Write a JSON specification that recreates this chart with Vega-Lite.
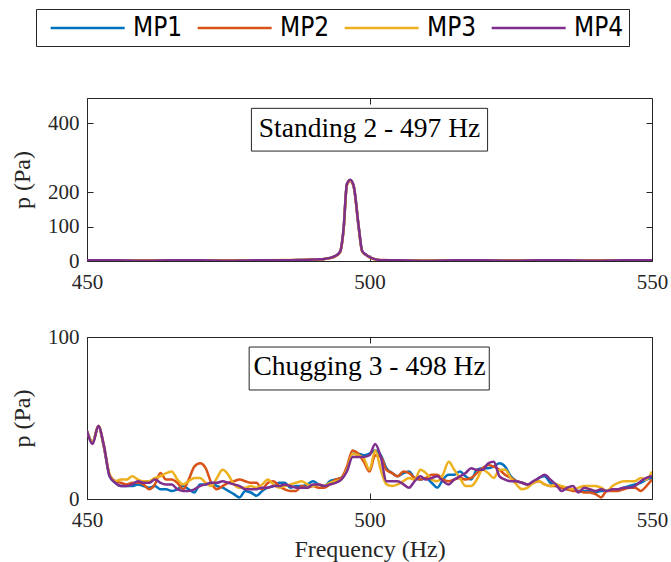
{
"$schema": "https://vega.github.io/schema/vega-lite/v6.json",
"padding": {"left": 10, "top": 8, "right": 12, "bottom": 0},
"spacing": 32,
"config": {
  "font": "Liberation Serif",
  "view": {"stroke": "#262626", "strokeWidth": 1},
  "axis": {"grid": false, "domain": false, "tickColor": "#262626", "tickSize": 6, "offset": -6, "tickWidth": 1, "labelFlush": false, "labelFont": "Liberation Serif", "labelFontSize": 21, "labelColor": "#262626", "titleFont": "Liberation Serif", "titleFontSize": 24, "titleFontWeight": "normal", "titleColor": "#262626", "labelPadding": 8, "titlePadding": 13},
  "axisX": {"labelPadding": 10, "titlePadding": 7},
  "legend": {"orient": "none", "legendX": -51, "legendY": -89, "direction": "horizontal", "title": null, "strokeColor": "#262626", "fillColor": "white", "padding": 5, "symbolType": "M-0.35,0H5.65", "symbolSize": 608, "symbolStrokeWidth": 2.5, "labelFont": "DejaVu Sans Condensed, Liberation Sans Narrow, DejaVu Sans", "labelFontSize": 26, "labelColor": "#000000", "labelOffset": 64, "columnPadding": 5}
},
"datasets": {
"top": [
{"f":450,"MP1":2,"MP2":2,"MP3":2,"MP4":2},
{"f":455,"MP1":2,"MP2":1,"MP3":2,"MP4":2},
{"f":460,"MP1":1,"MP2":2,"MP3":1,"MP4":1},
{"f":465,"MP1":2,"MP2":2,"MP3":2,"MP4":2},
{"f":470,"MP1":2,"MP2":1,"MP3":2,"MP4":2},
{"f":475,"MP1":1,"MP2":2,"MP3":1,"MP4":1},
{"f":480,"MP1":2,"MP2":2,"MP3":2,"MP4":2},
{"f":485,"MP1":2,"MP2":2,"MP3":3,"MP4":2},
{"f":488,"MP1":3,"MP2":3,"MP3":3,"MP4":3},
{"f":490,"MP1":4,"MP2":4,"MP3":4,"MP4":4},
{"f":491,"MP1":5,"MP2":4,"MP3":5,"MP4":5},
{"f":492,"MP1":6,"MP2":6,"MP3":6,"MP4":6},
{"f":493,"MP1":9,"MP2":8,"MP3":9,"MP4":9},
{"f":494,"MP1":15,"MP2":14,"MP3":15,"MP4":15},
{"f":494.8,"MP1":27,"MP2":26,"MP3":27,"MP4":27},
{"f":495.4,"MP1":90,"MP2":88,"MP3":90,"MP4":92},
{"f":496,"MP1":222,"MP2":220,"MP3":222,"MP4":224},
{"f":496.6,"MP1":234,"MP2":232,"MP3":234,"MP4":236},
{"f":497.2,"MP1":217,"MP2":215,"MP3":217,"MP4":218},
{"f":498.1,"MP1":97,"MP2":95,"MP3":97,"MP4":98},
{"f":498.7,"MP1":28,"MP2":28,"MP3":28,"MP4":29},
{"f":499.5,"MP1":17,"MP2":17,"MP3":16,"MP4":17},
{"f":500.3,"MP1":9,"MP2":9,"MP3":8,"MP4":9},
{"f":501.3,"MP1":4,"MP2":4,"MP3":4,"MP4":4},
{"f":502.5,"MP1":2,"MP2":3,"MP3":2,"MP4":2},
{"f":505,"MP1":2,"MP2":2,"MP3":2,"MP4":2},
{"f":510,"MP1":1,"MP2":2,"MP3":2,"MP4":1},
{"f":515,"MP1":2,"MP2":2,"MP3":2,"MP4":2},
{"f":520,"MP1":2,"MP2":1,"MP3":2,"MP4":2},
{"f":525,"MP1":1,"MP2":2,"MP3":1,"MP4":1},
{"f":530,"MP1":2,"MP2":2,"MP3":2,"MP4":2},
{"f":535,"MP1":2,"MP2":1,"MP3":2,"MP4":2},
{"f":540,"MP1":1,"MP2":2,"MP3":1,"MP4":1},
{"f":545,"MP1":2,"MP2":2,"MP3":2,"MP4":2},
{"f":550,"MP1":2,"MP2":2,"MP3":2,"MP4":2}
],
"bot": [
{"f":450,"MP1":42,"MP2":41,"MP3":42,"MP4":42},
{"f":451,"MP1":35,"MP2":35,"MP3":35,"MP4":34},
{"f":452,"MP1":45,"MP2":45,"MP3":45,"MP4":45},
{"f":453,"MP1":32,"MP2":32,"MP3":33,"MP4":33},
{"f":454,"MP1":14,"MP2":15,"MP3":15,"MP4":14},
{"f":455,"MP1":10,"MP2":11,"MP3":11,"MP4":10},
{"f":456,"MP1":8,"MP2":10,"MP3":12,"MP4":8},
{"f":457,"MP1":8,"MP2":9,"MP3":12,"MP4":8},
{"f":458,"MP1":8,"MP2":10,"MP3":14,"MP4":9},
{"f":459,"MP1":9,"MP2":10,"MP3":12,"MP4":11},
{"f":460,"MP1":8,"MP2":9,"MP3":11,"MP4":10},
{"f":461,"MP1":7,"MP2":6,"MP3":11,"MP4":10},
{"f":462,"MP1":8,"MP2":9,"MP3":13,"MP4":12},
{"f":463,"MP1":6,"MP2":16,"MP3":14,"MP4":10},
{"f":464,"MP1":6,"MP2":12,"MP3":16,"MP4":9},
{"f":465,"MP1":5,"MP2":12,"MP3":17,"MP4":9},
{"f":466,"MP1":6,"MP2":10,"MP3":12,"MP4":6},
{"f":467,"MP1":8,"MP2":6,"MP3":9,"MP4":5},
{"f":468,"MP1":6,"MP2":12,"MP3":11,"MP4":5},
{"f":469,"MP1":4,"MP2":20,"MP3":13,"MP4":6},
{"f":470,"MP1":9,"MP2":22,"MP3":13,"MP4":8},
{"f":471,"MP1":9,"MP2":19,"MP3":10,"MP4":9},
{"f":472,"MP1":10,"MP2":10,"MP3":8,"MP4":10},
{"f":473,"MP1":8,"MP2":6,"MP3":13,"MP4":10},
{"f":474,"MP1":7,"MP2":8,"MP3":18,"MP4":11},
{"f":475,"MP1":5,"MP2":10,"MP3":15,"MP4":10},
{"f":476,"MP1":3,"MP2":11,"MP3":9,"MP4":9},
{"f":477,"MP1":1,"MP2":12,"MP3":7,"MP4":8},
{"f":478,"MP1":5,"MP2":11,"MP3":7,"MP4":6},
{"f":479,"MP1":4,"MP2":10,"MP3":8,"MP4":6},
{"f":480,"MP1":2,"MP2":10,"MP3":7,"MP4":6},
{"f":481,"MP1":5,"MP2":6,"MP3":9,"MP4":7},
{"f":482,"MP1":7,"MP2":10,"MP3":12,"MP4":7},
{"f":483,"MP1":8,"MP2":11,"MP3":9,"MP4":8},
{"f":484,"MP1":10,"MP2":8,"MP3":7,"MP4":8},
{"f":485,"MP1":10,"MP2":6,"MP3":8,"MP4":9},
{"f":486,"MP1":7,"MP2":5,"MP3":9,"MP4":8},
{"f":487,"MP1":8,"MP2":5,"MP3":10,"MP4":7},
{"f":488,"MP1":8,"MP2":8,"MP3":11,"MP4":7},
{"f":489,"MP1":9,"MP2":7,"MP3":9,"MP4":7},
{"f":490,"MP1":11,"MP2":8,"MP3":8,"MP4":9},
{"f":491,"MP1":9,"MP2":7,"MP3":9,"MP4":9},
{"f":492,"MP1":8,"MP2":7,"MP3":8,"MP4":8},
{"f":493,"MP1":11,"MP2":9,"MP3":10,"MP4":9},
{"f":494,"MP1":12,"MP2":12,"MP3":11,"MP4":10},
{"f":495,"MP1":13,"MP2":13,"MP3":12,"MP4":12},
{"f":496,"MP1":18,"MP2":20,"MP3":18,"MP4":17},
{"f":497,"MP1":28,"MP2":30,"MP3":28,"MP4":26},
{"f":498,"MP1":28,"MP2":28,"MP3":27,"MP4":26},
{"f":499,"MP1":27,"MP2":23,"MP3":25,"MP4":26},
{"f":500,"MP1":28,"MP2":17,"MP3":18,"MP4":27},
{"f":501,"MP1":30,"MP2":27,"MP3":30,"MP4":34},
{"f":502,"MP1":27,"MP2":26,"MP3":18,"MP4":26},
{"f":503,"MP1":19,"MP2":18,"MP3":9,"MP4":11},
{"f":504,"MP1":16,"MP2":16,"MP3":8,"MP4":11},
{"f":505,"MP1":14,"MP2":14,"MP3":9,"MP4":11},
{"f":506,"MP1":16,"MP2":17,"MP3":11,"MP4":9},
{"f":507,"MP1":17,"MP2":16,"MP3":13,"MP4":7},
{"f":508,"MP1":13,"MP2":13,"MP3":12,"MP4":11},
{"f":509,"MP1":12,"MP2":12,"MP3":18,"MP4":14},
{"f":510,"MP1":13,"MP2":13,"MP3":16,"MP4":12},
{"f":511,"MP1":10,"MP2":15,"MP3":12,"MP4":13},
{"f":512,"MP1":7,"MP2":15,"MP3":11,"MP4":14},
{"f":513,"MP1":12,"MP2":12,"MP3":15,"MP4":11},
{"f":514,"MP1":15,"MP2":11,"MP3":23,"MP4":9},
{"f":515,"MP1":15,"MP2":12,"MP3":18,"MP4":12},
{"f":516,"MP1":17,"MP2":13,"MP3":13,"MP4":14},
{"f":517,"MP1":14,"MP2":12,"MP3":8,"MP4":16},
{"f":518,"MP1":12,"MP2":13,"MP3":8,"MP4":19},
{"f":519,"MP1":18,"MP2":16,"MP3":12,"MP4":18},
{"f":520,"MP1":19,"MP2":19,"MP3":18,"MP4":18},
{"f":521,"MP1":19,"MP2":21,"MP3":16,"MP4":22},
{"f":522,"MP1":20,"MP2":20,"MP3":13,"MP4":23},
{"f":523,"MP1":22,"MP2":18,"MP3":18,"MP4":14},
{"f":524,"MP1":20,"MP2":15,"MP3":18,"MP4":12},
{"f":525,"MP1":14,"MP2":13,"MP3":13,"MP4":11},
{"f":526,"MP1":11,"MP2":11,"MP3":9,"MP4":11},
{"f":527,"MP1":10,"MP2":10,"MP3":6,"MP4":10},
{"f":528,"MP1":9,"MP2":9,"MP3":7,"MP4":9},
{"f":529,"MP1":10,"MP2":10,"MP3":10,"MP4":11},
{"f":530,"MP1":13,"MP2":11,"MP3":11,"MP4":13},
{"f":531,"MP1":14,"MP2":9,"MP3":9,"MP4":15},
{"f":532,"MP1":10,"MP2":8,"MP3":8,"MP4":12},
{"f":533,"MP1":8,"MP2":8,"MP3":9,"MP4":9},
{"f":534,"MP1":7,"MP2":7,"MP3":8,"MP4":5},
{"f":535,"MP1":6,"MP2":6,"MP3":7,"MP4":7},
{"f":536,"MP1":6,"MP2":5,"MP3":6,"MP4":8},
{"f":537,"MP1":5,"MP2":5,"MP3":7,"MP4":4},
{"f":538,"MP1":5,"MP2":4,"MP3":8,"MP4":7},
{"f":539,"MP1":5,"MP2":4,"MP3":8,"MP4":6},
{"f":540,"MP1":4,"MP2":3,"MP3":8,"MP4":5},
{"f":541,"MP1":5,"MP2":1,"MP3":7,"MP4":6},
{"f":542,"MP1":5,"MP2":5,"MP3":5,"MP4":5},
{"f":543,"MP1":6,"MP2":5,"MP3":8,"MP4":6},
{"f":544,"MP1":6,"MP2":5,"MP3":10,"MP4":6},
{"f":545,"MP1":7,"MP2":6,"MP3":11,"MP4":7},
{"f":546,"MP1":8,"MP2":7,"MP3":11,"MP4":7},
{"f":547,"MP1":9,"MP2":7,"MP3":11,"MP4":8},
{"f":548,"MP1":10,"MP2":5,"MP3":13,"MP4":11},
{"f":549,"MP1":12,"MP2":8,"MP3":12,"MP4":13},
{"f":550,"MP1":13,"MP2":12,"MP3":17,"MP4":14}
]
},
"vconcat": [
{
 "width": 565, "height": 163,
 "data": {"name": "top"},
 "transform": [{"fold": ["MP1","MP2","MP3","MP4"], "as": ["s","p"]}],
 "layer": [
  {"mark": {"type": "line", "strokeWidth": 2.5, "clip": true, "interpolate": "monotone"},
   "encoding": {
    "x": {"field": "f", "type": "quantitative", "scale": {"domain": [450,550], "nice": false, "zero": false}, "axis": {"values": [450,500,550], "title": null}},
    "y": {"field": "p", "type": "quantitative", "scale": {"domain": [0,473], "nice": false}, "axis": {"values": [0,100,200,400], "title": "p (Pa)"}},
    "color": {"field": "s", "type": "nominal", "scale": {"domain": ["MP1","MP2","MP3","MP4"], "range": ["#0072BD","#D95319","#EDB120","#7E2F8E"]}}
   }},
  {"mark": {"type": "line", "opacity": 0},
   "encoding": {
    "x": {"field": "f", "type": "quantitative", "axis": {"orient": "top", "values": [450,500,550], "labels": false, "title": null}},
    "y": {"field": "p", "type": "quantitative", "axis": {"orient": "right", "values": [0,100,200,400], "labels": false, "title": null}}
   }},
  {"data": {"values": [{}]},
   "mark": {"type": "rect", "fill": "white", "stroke": "#262626", "strokeWidth": 1},
   "encoding": {
    "x": {"datum": 479.1, "type": "quantitative", "axis": null}, "x2": {"datum": 520.9},
    "y": {"datum": 319, "type": "quantitative", "axis": null}, "y2": {"datum": 443}
   }},
  {"data": {"values": [{}]},
   "mark": {"type": "text", "font": "Liberation Serif", "fontSize": 27.5, "color": "#000000"},
   "encoding": {
    "x": {"datum": 500, "type": "quantitative", "axis": null},
    "y": {"datum": 383, "type": "quantitative", "axis": null},
    "text": {"value": "Standing 2 - 497 Hz"}
   }}
 ],
 "resolve": {"axis": {"x": "independent", "y": "independent"}}
},
{
 "width": 565, "height": 162,
 "data": {"name": "bot"},
 "transform": [{"fold": ["MP1","MP2","MP3","MP4"], "as": ["s","p"]}],
 "layer": [
  {"mark": {"type": "line", "strokeWidth": 2.5, "clip": true, "interpolate": "monotone"},
   "encoding": {
    "x": {"field": "f", "type": "quantitative", "scale": {"domain": [450,550], "nice": false, "zero": false}, "axis": {"values": [450,500,550], "title": "Frequency (Hz)"}},
    "y": {"field": "p", "type": "quantitative", "scale": {"domain": [0,100], "nice": false}, "axis": {"values": [0,100], "title": "p (Pa)"}},
    "color": {"field": "s", "type": "nominal", "scale": {"domain": ["MP1","MP2","MP3","MP4"], "range": ["#0072BD","#D95319","#EDB120","#7E2F8E"]}}
   }},
  {"mark": {"type": "line", "opacity": 0},
   "encoding": {
    "x": {"field": "f", "type": "quantitative", "axis": {"orient": "top", "values": [450,500,550], "labels": false, "title": null}},
    "y": {"field": "p", "type": "quantitative", "axis": {"orient": "right", "values": [0,100], "labels": false, "title": null}}
   }},
  {"data": {"values": [{}]},
   "mark": {"type": "rect", "fill": "white", "stroke": "#262626", "strokeWidth": 1},
   "encoding": {
    "x": {"datum": 478.7, "type": "quantitative", "axis": null}, "x2": {"datum": 521.2},
    "y": {"datum": 67.3, "type": "quantitative", "axis": null}, "y2": {"datum": 93.8}
   }},
  {"data": {"values": [{}]},
   "mark": {"type": "text", "font": "Liberation Serif", "fontSize": 27.5, "color": "#000000"},
   "encoding": {
    "x": {"datum": 500, "type": "quantitative", "axis": null},
    "y": {"datum": 81.2, "type": "quantitative", "axis": null},
    "text": {"value": "Chugging 3 - 498 Hz"}
   }}
 ],
 "resolve": {"axis": {"x": "independent", "y": "independent"}}
}
],
"resolve": {"scale": {"color": "shared"}}
}
